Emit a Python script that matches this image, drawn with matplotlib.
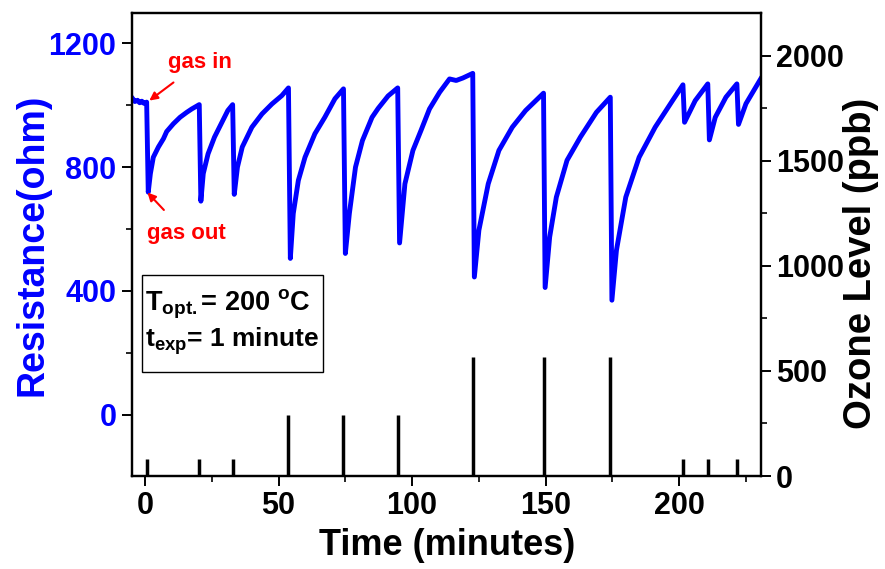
import matplotlib
matplotlib.use("Agg")
import matplotlib.pyplot as plt
from matplotlib.patches import Rectangle
from matplotlib.ticker import MultipleLocator

plt.rcParams['font.family'] = ['Liberation Sans', 'DejaVu Sans']
plt.rcParams['font.weight'] = 'bold'
plt.rcParams['mathtext.fontset'] = 'custom'
plt.rcParams['mathtext.rm'] = 'Liberation Sans:bold'
plt.rcParams['mathtext.it'] = 'Liberation Sans:bold'
plt.rcParams['mathtext.bf'] = 'Liberation Sans:bold'

# Resistance trace (minutes, ohm)
time_min = [-4.6, -3.8, -2.8, -2.0, -1.2, -0.4, 0.6,
            1.2, 2.0, 3.1, 5.0, 6.9, 8.1, 10.6, 13.1, 15.6, 17.5, 20.3,
            20.9, 21.8, 23.6, 26.0, 28.5, 31.0, 32.8,
            33.4, 34.6, 36.4, 40.0, 43.8, 47.5, 51.2, 53.7,
            54.4, 55.5, 57.4, 59.9, 63.6, 67.3, 71.1, 74.3,
            75.0, 76.5, 78.8, 81.4, 85.0, 87.3, 91.0, 94.6,
            95.3, 97.3, 100.3, 103.3, 106.5, 110.3, 114.0, 116.5, 119.0, 122.7,
            123.3, 125.0, 128.5, 132.5, 137.5, 142.5, 149.2,
            149.8, 151.5, 154.0, 158.0, 163.0, 169.0, 174.2,
            174.8, 176.5, 180.0, 185.0, 191.0, 197.5, 201.4,
            202.0, 206.0, 210.7,
            211.3, 213.5, 217.5, 221.6,
            222.2, 225.0, 230.5]
resistance = [1021, 1012, 1016, 1008, 1013, 1006, 1010,
              719, 779, 832, 865, 892, 915, 940, 961, 977, 988, 1002,
              690, 779, 843, 897, 940, 983, 1002,
              712, 800, 865, 929, 972, 1004, 1031, 1056,
              505, 650, 757, 832, 908, 961, 1021, 1053,
              521, 650, 800, 886, 961, 990, 1030, 1056,
              555, 746, 854, 918, 988, 1042, 1085, 1080, 1088, 1103,
              445, 596, 746, 854, 929, 983, 1039,
              411, 574, 703, 822, 897, 977, 1026,
              370, 531, 703, 832, 929, 1015, 1066,
              945, 1015, 1069,
              888, 961, 1026, 1069,
              938, 1005, 1085]

# Ozone pulses (minutes, ppb)
ozone_time = [0.6, 20.3, 32.8, 53.7, 74.3, 94.6, 122.7, 149.2, 174.2, 201.4, 210.7, 221.6]
ozone_ppb = [80, 80, 80, 290, 290, 290, 565, 565, 565, 80, 80, 80]

x_ticks = [0, 50, 100, 150, 200]
left_ticks = [0, 400, 800, 1200]
right_ticks = [0, 500, 1000, 1500, 2000]

BLUE = '#0000FF'
RED = '#FF0000'

fig = plt.figure(figsize=(8.85, 5.69), dpi=100)
ax1 = fig.add_axes([0.1488, 0.1634, 0.8595 - 0.1488, 0.9777 - 0.1634])
ax2 = ax1.twinx()

ax1.plot(time_min, resistance, color=BLUE, lw=3.5, solid_joinstyle='round')
ax2.vlines(ozone_time, 0, ozone_ppb, colors='black', lw=2.5)

ax1.set_xlim(-5, 230.5)
ax1.set_ylim(-198, 1299)
ax2.set_ylim(0, 2205)

ax1.set_xticks(x_ticks)
ax1.xaxis.set_minor_locator(MultipleLocator(25))
ax1.set_yticks(left_ticks)
ax1.yaxis.set_minor_locator(MultipleLocator(200))
ax2.set_yticks(right_ticks)
ax2.yaxis.set_minor_locator(MultipleLocator(250))

for ax in (ax1, ax2):
    for s in ax.spines.values():
        s.set_linewidth(1.6)
ax1.tick_params(axis='both', which='major', direction='out', length=7, width=1.4,
                labelsize=22, pad=4)
ax1.tick_params(axis='both', which='minor', direction='out', length=4, width=1.2)
ax1.tick_params(axis='y', labelcolor=BLUE)
ax2.tick_params(axis='y', which='major', direction='out', length=7, width=1.4,
                labelsize=22, pad=4)
ax2.tick_params(axis='y', which='minor', direction='out', length=4, width=1.2)

for lab in ax1.get_xticklabels() + ax1.get_yticklabels() + ax2.get_yticklabels():
    lab.set_fontweight('bold')

ax1.set_xlabel('Time (minutes)', fontsize=26, fontweight='bold')
ax1.xaxis.set_label_coords(0.502, -0.149)
ax1.xaxis.label.set_va('center')

ax1.set_ylabel('Resistance(ohm)', fontsize=27, fontweight='bold', color=BLUE)
ax1.yaxis.set_label_coords(-0.158, 0.5)
ax1.yaxis.label.set_va('center')
ax1.yaxis.label.set_ha('center')

ax2.set_ylabel('Ozone Level (ppb)', fontsize=27.5, fontweight='bold', color='black')
ax2.yaxis.set_label_coords(1.159, 0.46)
ax2.yaxis.label.set_va('center')
ax2.yaxis.label.set_ha('center')

# annotations
ax1.annotate('gas in', xy=(1.6, 1015), xytext=(20.6, 1138), color=RED, fontsize=16,
             fontweight='bold', ha='center', va='center',
             arrowprops=dict(arrowstyle='-|>', color=RED, lw=1.5, shrinkA=8, shrinkB=0,
                             mutation_scale=12))
ax1.annotate('gas out', xy=(0.9, 718), xytext=(15.3, 586), color=RED, fontsize=16,
             fontweight='bold', ha='center', va='center',
             arrowprops=dict(arrowstyle='-|>', color=RED, lw=1.5, shrinkA=10, shrinkB=0,
                             mutation_scale=12))

# parameter box
ax1.add_patch(Rectangle((0.016, 0.225), 0.288, 0.209, transform=ax1.transAxes,
                        facecolor='white', edgecolor='black', lw=1.0, zorder=5))
ax1.text(0.021, 0.358, r'T$_{\mathrm{opt.}}$= 200 $^{\mathrm{o}}$C', transform=ax1.transAxes,
         fontsize=19.5, fontweight='bold', va='baseline', ha='left', zorder=6)
ax1.text(0.021, 0.279, r't$_{\mathrm{exp}}$= 1 minute', transform=ax1.transAxes,
         fontsize=19, fontweight='bold', va='baseline', ha='left', zorder=6)

fig.savefig('out.png', dpi=100)
